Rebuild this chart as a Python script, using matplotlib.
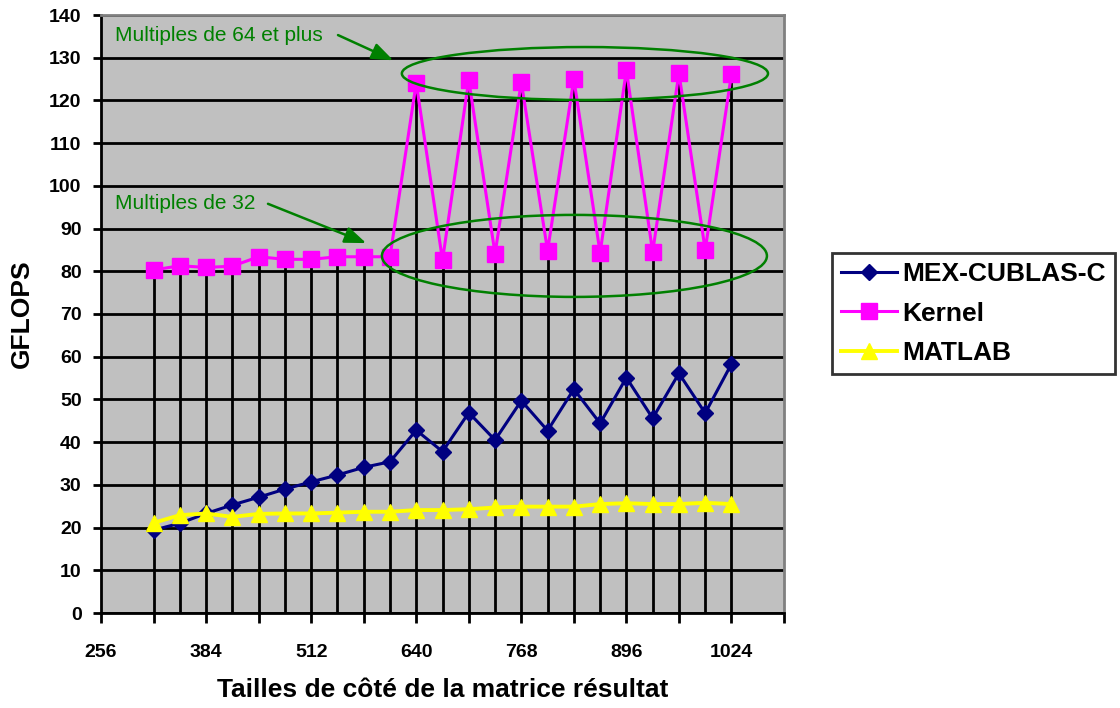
import matplotlib
matplotlib.use("Agg")
import matplotlib.pyplot as plt
from matplotlib.patches import Ellipse
from matplotlib.ticker import MultipleLocator, FixedLocator
import numpy as np

plt.rcParams['font.family'] = ['Liberation Sans', 'DejaVu Sans']

sizes = [320, 352, 384, 416, 448, 480, 512, 544, 576, 608, 640, 672,
         704, 736, 768, 800, 832, 864, 896, 928, 960, 992, 1024]
mex_cublas_c = [19.4, 21.0, 23.3, 25.3, 27.1, 29.0, 30.7, 32.3, 34.1, 35.4, 42.8, 37.8,
                46.9, 40.5, 49.7, 42.7, 52.4, 44.4, 55.1, 45.6, 56.1, 46.8, 58.3]
kernel = [80.3, 81.3, 80.9, 81.2, 83.4, 82.8, 82.8, 83.4, 83.4, 83.4, 124.1, 82.6,
          124.8, 84.1, 124.3, 84.8, 125.0, 84.3, 127.1, 84.5, 126.4, 85.0, 126.2]
matlab = [21.1, 22.9, 23.3, 22.5, 23.2, 23.3, 23.3, 23.5, 23.7, 23.7, 24.1, 24.1,
          24.3, 24.7, 24.9, 24.9, 24.9, 25.5, 25.7, 25.5, 25.5, 25.8, 25.5]
series_names = ["MEX-CUBLAS-C", "Kernel", "MATLAB"]
x_tick_labels = [256, 384, 512, 640, 768, 896, 1024]
annot_64 = "Multiples de 64 et plus"
annot_32 = "Multiples de 32"

W, H = 1120, 708
fig = plt.figure(figsize=(W / 100, H / 100), dpi=100)
fig.patch.set_facecolor('white')
ax = fig.add_axes([101 / W, 1 - 613 / H, (784 - 101) / W, (613 - 15) / H])
ax.set_facecolor('#C0C0C0')
ax.set_xlim(256, 1088)
ax.set_ylim(0, 140)

# horizontal gridlines
ax.yaxis.set_major_locator(MultipleLocator(10))
ax.grid(axis='y', color='black', linewidth=2, zorder=1)
ax.set_axisbelow(True)

# drop lines
tops = np.max(np.vstack([mex_cublas_c, kernel, matlab]), axis=0)
ax.vlines(sizes, 0, tops, color='black', linewidth=2, zorder=2)

ax.plot(sizes, mex_cublas_c, color='#000080', linewidth=2.2, marker='D', markersize=8,
        markerfacecolor='#000080', markeredgecolor='#000080', label=series_names[0], zorder=4)
ax.plot(sizes, kernel, color='#FF00FF', linewidth=2.2, marker='s', markersize=11,
        markerfacecolor='#FF00FF', markeredgecolor='#FF00FF', label=series_names[1], zorder=4)
ax.plot(sizes, matlab, color='#FFFF00', linewidth=2.8, marker='^', markersize=12,
        markerfacecolor='#FFFF00', markeredgecolor='#FFFF00', label=series_names[2], zorder=4)

# ticks
ax.xaxis.set_major_locator(FixedLocator(x_tick_labels))
ax.xaxis.set_minor_locator(MultipleLocator(64))
ax.set_xticklabels([str(v) for v in x_tick_labels])
ax.tick_params(axis='x', which='both', direction='out', length=7, width=2, pad=15,
               labelsize=14, colors='black')
ax.tick_params(axis='y', direction='out', length=6, width=2, pad=8, labelsize=14)
for lab in ax.get_xticklabels() + ax.get_yticklabels():
    lab.set_fontweight('bold')

for s in ['left', 'bottom']:
    ax.spines[s].set_color('black')
    ax.spines[s].set_linewidth(2)
for s in ['top', 'right']:
    ax.spines[s].set_color('#808080')
    ax.spines[s].set_linewidth(2)

# ellipses and annotations
green = '#008000'
ax.add_patch(Ellipse((845.5, 126.3), 446, 12.4, fill=False, edgecolor=green, linewidth=1.8, zorder=5))
ax.add_patch(Ellipse((832.7, 83.6), 469, 19.2, fill=False, edgecolor=green, linewidth=1.8, zorder=5))
ax.text(273, 135.3, annot_64, color=green, fontsize=15, ha='left', va='center', zorder=6)
ax.text(273, 95.8, annot_32, color=green, fontsize=15, ha='left', va='center', zorder=6)
arrowprops = dict(arrowstyle='-|>,head_length=1.3,head_width=0.5', color=green, linewidth=1.8,
                  shrinkA=0, shrinkB=0)
ax.annotate('', xy=(612, 129.4), xytext=(544.7, 135.3), arrowprops=arrowprops, zorder=6)
ax.annotate('', xy=(579, 86.6), xytext=(459.4, 95.8), arrowprops=arrowprops, zorder=6)

# axis titles
fig.text(442.5 / W, 1 - 690 / H, "Tailles de côté de la matrice résultat", fontsize=19,
         fontweight='bold', ha='center', va='center')
fig.text(22 / W, 1 - 314 / H, "GFLOPS", fontsize=19, fontweight='bold', ha='center',
         va='center', rotation=90)

leg = ax.legend(loc='upper left', bbox_to_anchor=(832 / W, 1 - 253 / H),
                bbox_transform=fig.transFigure, borderaxespad=0, frameon=True, fancybox=False,
                edgecolor='black', prop={'size': 19, 'weight': 'bold'}, handlelength=2.1,
                handletextpad=0.2, labelspacing=0.58, borderpad=0.35)
leg.get_frame().set_linewidth(2)

fig.savefig('out.png', dpi=100, facecolor='white')
